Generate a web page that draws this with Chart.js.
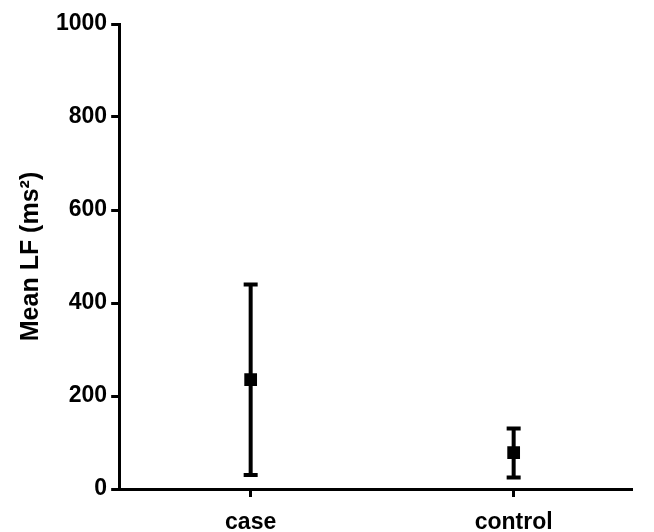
<!DOCTYPE html>
<html>
<head>
<meta charset="utf-8">
<script src="https://cdn.jsdelivr.net/npm/chart.js@4/dist/chart.umd.min.js"></script>
<style>
  html, body { margin: 0; padding: 0; background: #fff; }
  #wrap { width: 654px; height: 532px; }
</style>
</head>
<body>
<div id="wrap"><canvas id="lfChart" width="654" height="532"></canvas></div>
<script>
  "use strict";

  // groups and values
  const groups = ["case", "control"];
  const groupPos = [1, 2];
  const means = [235, 78];
  const upper = [440, 130];
  const lower = [30, 25];
  const yTicks = [0, 200, 400, 600, 800, 1000];

  const FONT = "Liberation Sans, Arial, Helvetica, sans-serif";

  // whiskers + caps drawn via the chart scales
  const errorBars = {
    id: "errorBars",
    beforeDatasetsDraw(chart) {
      const ctx = chart.ctx;
      const xs = chart.scales.x, ys = chart.scales.y;
      ctx.save();
      ctx.strokeStyle = "#000";
      ctx.lineWidth = 4;
      groupPos.forEach(function (p, i) {
        const x = xs.getPixelForValue(p);
        const yHi = ys.getPixelForValue(upper[i]);
        const yLo = ys.getPixelForValue(lower[i]);
        ctx.beginPath();
        ctx.moveTo(x, yHi);
        ctx.lineTo(x, yLo);
        ctx.moveTo(x - 7, yHi);
        ctx.lineTo(x + 7, yHi);
        ctx.moveTo(x - 7, yLo);
        ctx.lineTo(x + 7, yLo);
        ctx.stroke();
      });
      ctx.restore();
    }
  };

  new Chart(document.getElementById("lfChart"), {
    type: "scatter",
    data: {
      datasets: [{
        label: "Mean LF",
        data: groupPos.map(function (p, i) { return { x: p, y: means[i] }; }),
        pointStyle: "rect",
        pointRadius: 9,
        pointHoverRadius: 9,
        backgroundColor: "#000",
        borderColor: "#000",
        borderWidth: 0
      }]
    },
    options: {
      responsive: false,
      animation: false,
      layout: { padding: { top: 24, right: 22, left: 16, bottom: 0 } },
      plugins: { legend: { display: false }, tooltip: { enabled: false } },
      scales: {
        x: {
          type: "linear",
          min: 0.5,
          max: 2.45,
          afterBuildTicks(axis) {
            axis.ticks = groupPos.map(function (v) { return { value: v }; });
          },
          afterFit(axis) { axis.height = 43; },
          ticks: {
            color: "#000",
            font: { family: FONT, size: 23, weight: "bold" },
            padding: 12,
            maxRotation: 0,
            callback: function (v) { return groups[groupPos.indexOf(v)]; }
          },
          grid: { drawOnChartArea: false, drawTicks: true, tickLength: 8, tickWidth: 3, color: "#000" },
          border: { display: true, width: 3, color: "#000" }
        },
        y: {
          min: 0,
          max: 1000,
          afterBuildTicks(axis) {
            axis.ticks = yTicks.map(function (v) { return { value: v }; });
          },
          ticks: {
            color: "#000",
            font: { family: FONT, size: 23, weight: "bold" },
            padding: 4,
            callback: function (v) { return String(v); }
          },
          grid: { drawOnChartArea: false, drawTicks: true, tickLength: 8, tickWidth: 3, color: "#000" },
          border: { display: true, width: 3, color: "#000" },
          title: {
            display: true,
            text: "Mean LF (ms²)",
            color: "#000",
            font: { family: FONT, size: 25, weight: "bold" },
            padding: { top: 0, bottom: 6 }
          }
        }
      }
    },
    plugins: [errorBars]
  });
</script>
</body>
</html>
